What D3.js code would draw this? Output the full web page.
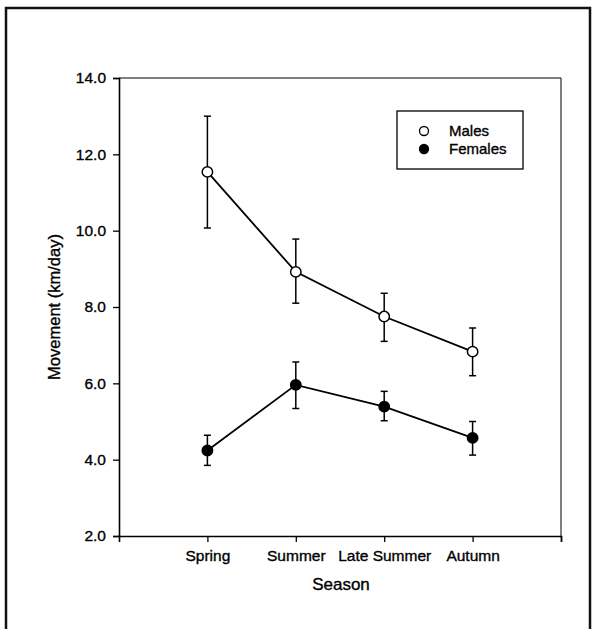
<!DOCTYPE html>
<html>
<head>
<meta charset="utf-8">
<script src="https://cdn.jsdelivr.net/npm/d3@7"></script>
<style>
  body { margin: 0; background: #fff; }
  text { font-family: "Liberation Sans", Arial, sans-serif; fill: #000; stroke: #000; stroke-width: 0.35px; }
</style>
</head>
<body>
<div id="chart"></div>
<script>
// data
var seasons = ["Spring", "Summer", "Late Summer", "Autumn"]
var malesMean = [11.54, 8.92, 7.75, 6.83]
var malesHigh = [13.0, 9.78, 8.36, 7.45]
var malesLow = [10.07, 8.1, 7.1, 6.2]
var femalesMean = [4.24, 5.96, 5.39, 4.57]
var femalesHigh = [4.64, 6.56, 5.79, 5.0]
var femalesLow = [3.85, 5.34, 5.02, 4.12]
var yTicks = [2, 4, 6, 8, 10, 12, 14]

var screen = {width: 595, height: 629}
var plot = {left: 119, right: 561, top: 78, bottom: 536}

// scales
var xScale = d3.scaleLinear()
  .domain([0, seasons.length + 1])
  .range([plot.left, plot.right])
var yScale = d3.scaleLinear()
  .domain([2, 14])
  .range([plot.bottom, plot.top])

var svg = d3.select("#chart").append("svg")
  .attr("width", screen.width)
  .attr("height", screen.height)

// outer frame (open at the bottom like the scan)
svg.append("path")
  .attr("d", "M6,629 L6,8 L590,8 L590,629")
  .attr("fill", "none")
  .attr("stroke", "#111")
  .attr("stroke-width", 2.5)

// top and right edges of the plot box
svg.append("path")
  .attr("d", "M" + plot.left + "," + plot.top + " L" + plot.right + "," + plot.top + " L" + plot.right + "," + plot.bottom)
  .attr("fill", "none")
  .attr("stroke", "#000")
  .attr("stroke-width", 1)

// axes
var yAxis = d3.axisLeft(yScale)
  .tickValues(yTicks)
  .tickFormat(d3.format(".1f"))
  .tickSize(6)
  .tickPadding(7)
var gy = svg.append("g")
  .attr("transform", "translate(" + plot.left + ",0)")
  .call(yAxis)
gy.select(".domain").attr("stroke-width", 1.6)
gy.selectAll(".tick line").attr("stroke-width", 1.3)
gy.selectAll(".tick text")
  .style("font-size", "15.5px")

var xAxis = d3.axisBottom(xScale)
  .tickValues(d3.range(1, seasons.length + 2))
  .tickFormat(function(d) { return seasons[d - 1] || "" })
  .tickSizeOuter(0)
  .tickSize(6)
  .tickPadding(8)
var gx = svg.append("g")
  .attr("transform", "translate(0," + plot.bottom + ")")
  .call(xAxis)
gx.select(".domain").attr("stroke-width", 1.6)
gx.selectAll(".tick line").attr("stroke-width", 1.3)
gx.selectAll(".tick text")
  .style("font-size", "15.5px")

// axis titles
svg.append("text")
  .attr("transform", "translate(54," + ((plot.top + plot.bottom) / 2) + ") rotate(-90)")
  .attr("text-anchor", "middle")
  .attr("dy", "0.35em")
  .style("font-size", "16.5px")
  .text("Movement (km/day)")

svg.append("text")
  .attr("x", 341)
  .attr("y", 590)
  .attr("text-anchor", "middle")
  .style("font-size", "17px")
  .text("Season")

// series
var series = [
  {mean: malesMean, high: malesHigh, low: malesLow, fill: "#fff"},
  {mean: femalesMean, high: femalesHigh, low: femalesLow, fill: "#000"}
]

var drawPath = d3.line()
  .x(function(d, i) { return xScale(i + 1) })
  .y(function(d) { return yScale(d) })

series.forEach(function(s) {
  svg.append("path")
    .attr("d", drawPath(s.mean))
    .attr("fill", "none")
    .attr("stroke", "#000")
    .attr("stroke-width", 1.8)

  var bars = svg.append("g")
  s.mean.forEach(function(m, i) {
    var x = xScale(i + 1)
    bars.append("line")
      .attr("x1", x).attr("x2", x)
      .attr("y1", yScale(s.high[i])).attr("y2", yScale(s.low[i]))
      .attr("stroke", "#000").attr("stroke-width", 1.5)
    ;[s.high[i], s.low[i]].forEach(function(v) {
      bars.append("line")
        .attr("x1", x - 3.5).attr("x2", x + 3.5)
        .attr("y1", yScale(v)).attr("y2", yScale(v))
        .attr("stroke", "#000").attr("stroke-width", 1.5)
    })
  })

  svg.selectAll(null)
    .data(s.mean)
    .enter()
    .append("circle")
    .attr("cx", function(d, i) { return xScale(i + 1) })
    .attr("cy", function(d) { return yScale(d) })
    .attr("r", 5.2)
    .attr("fill", s.fill)
    .attr("stroke", "#000")
    .attr("stroke-width", 1.5)
})

// legend
var legend = svg.append("g")
legend.append("rect")
  .attr("x", 397).attr("y", 111)
  .attr("width", 126).attr("height", 58)
  .attr("fill", "#fff")
  .attr("stroke", "#000")
  .attr("stroke-width", 1.3)

var legendItems = [{label: "Males", fill: "#fff"}, {label: "Females", fill: "#000"}]
legendItems.forEach(function(d, i) {
  var y = 131 + i * 18
  legend.append("circle")
    .attr("cx", 424).attr("cy", y)
    .attr("r", 4.5)
    .attr("fill", d.fill)
    .attr("stroke", "#000")
    .attr("stroke-width", 1.3)
  legend.append("text")
    .attr("x", 449).attr("y", y)
    .attr("dy", "0.35em")
    .style("font-size", "15px")
    .text(d.label)
})
</script>
</body>
</html>
